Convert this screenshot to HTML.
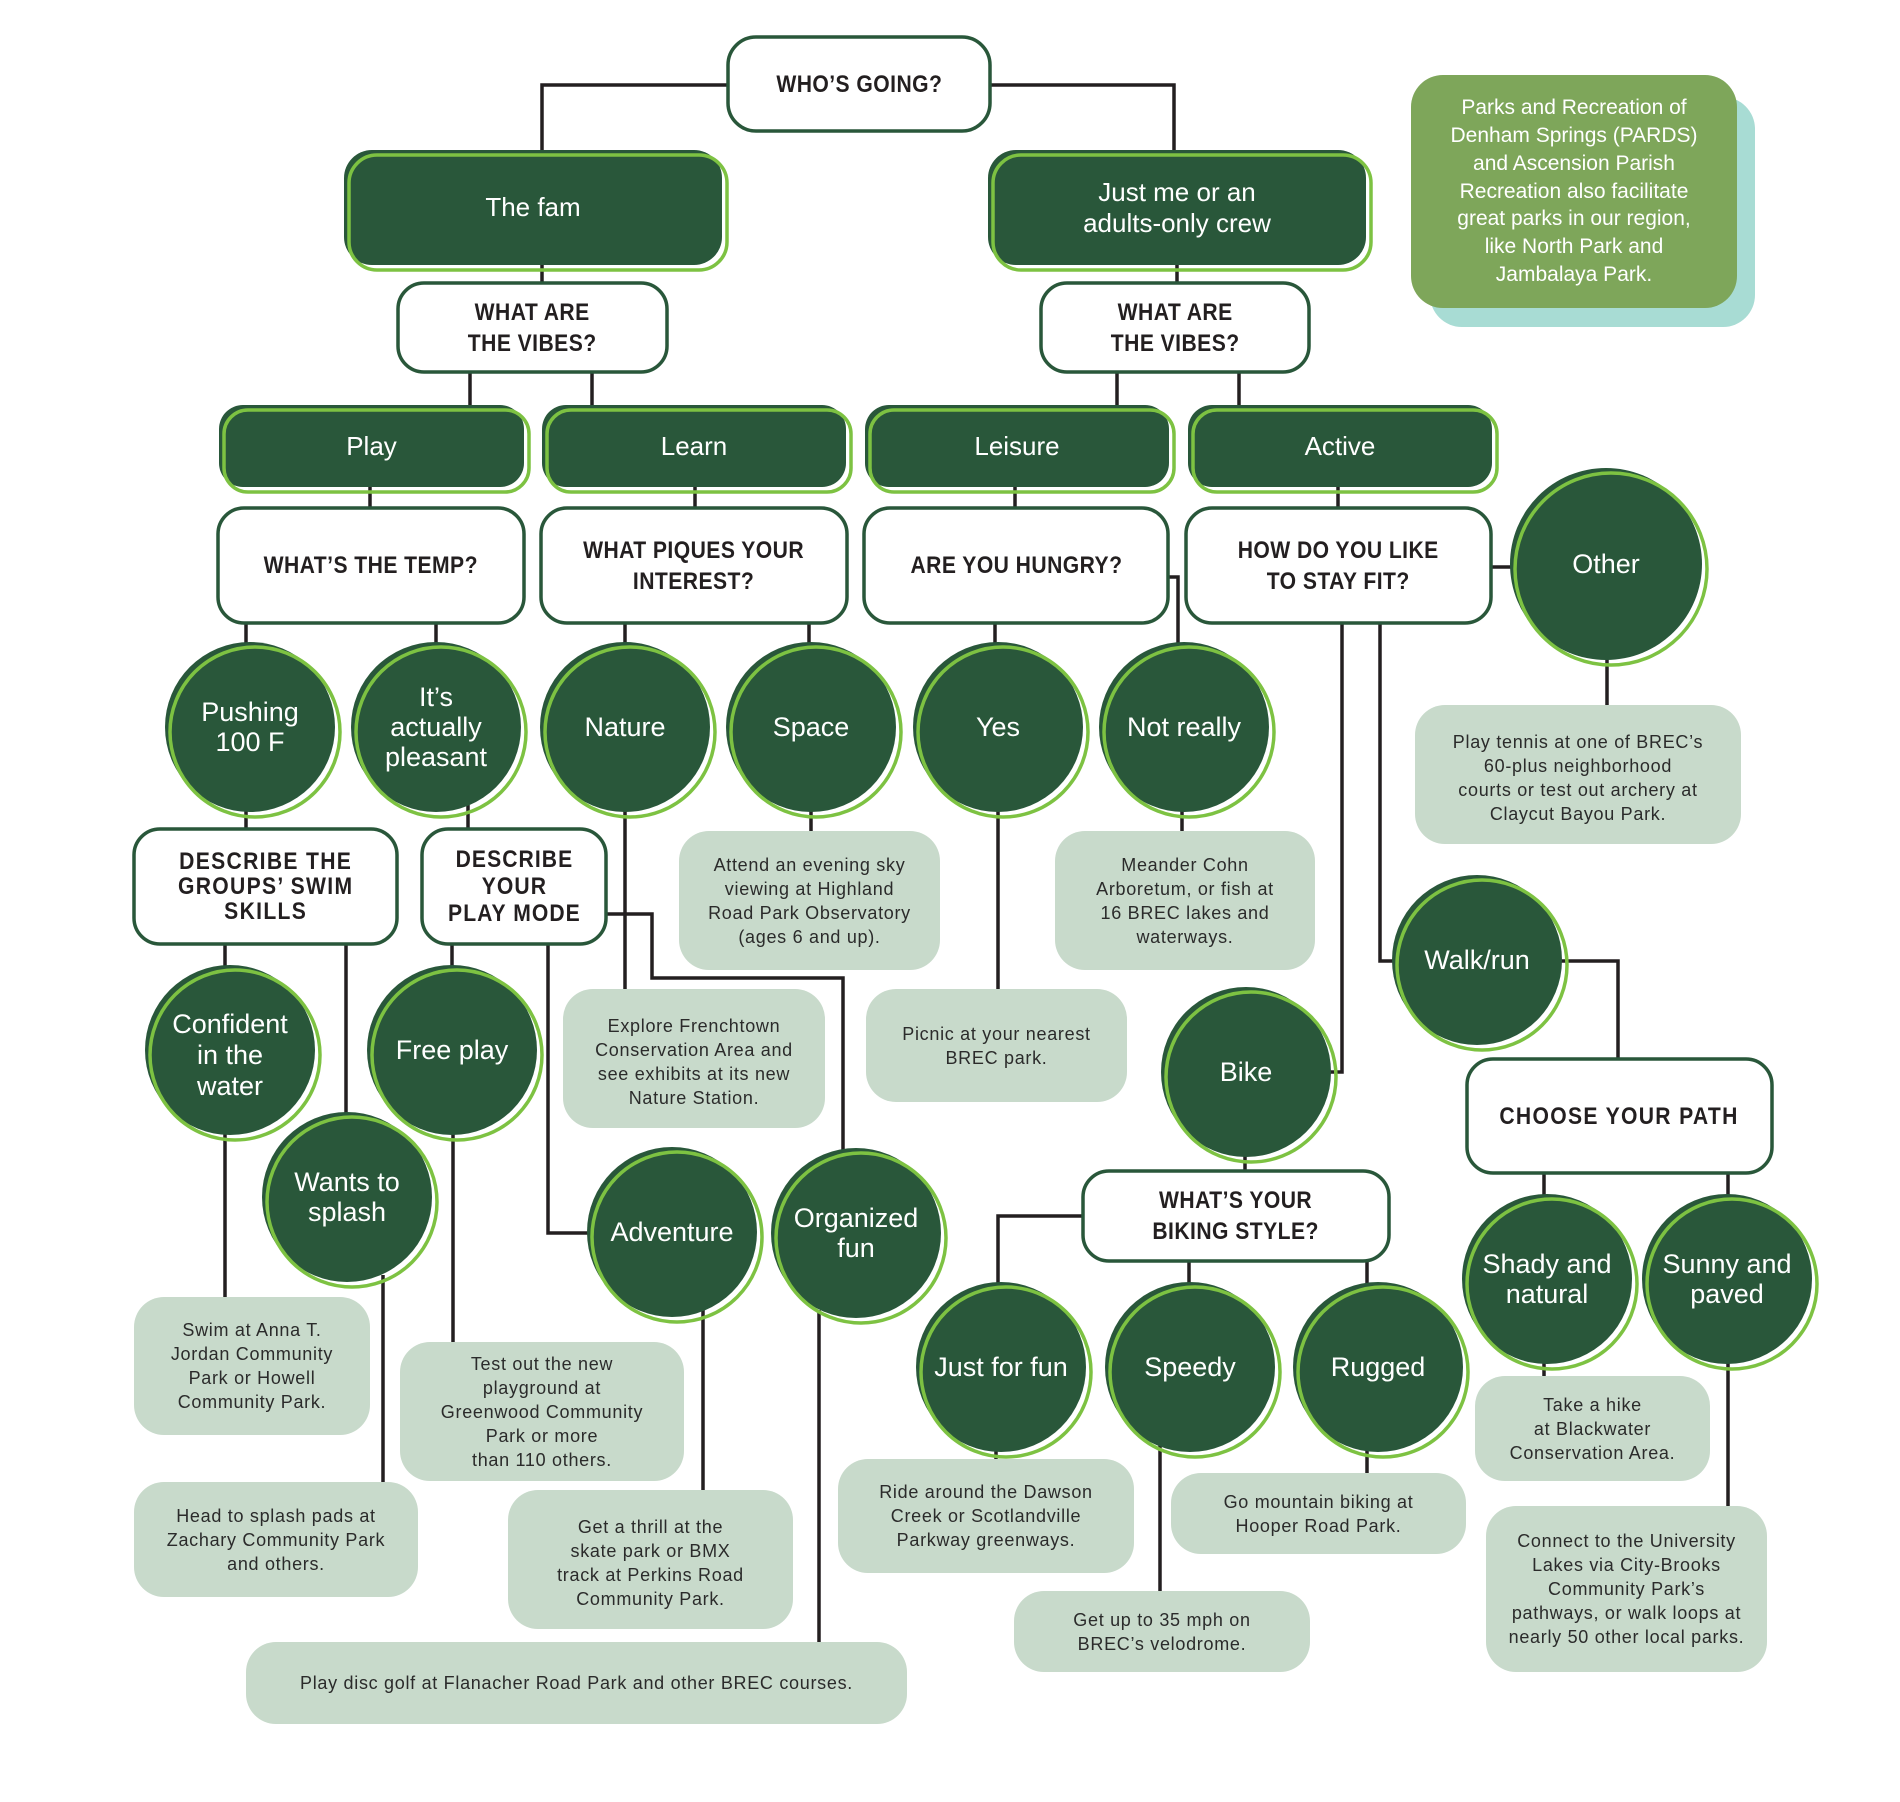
<!DOCTYPE html>
<html><head><meta charset="utf-8">
<style>
html,body{margin:0;padding:0;background:#fff;}
#w{position:relative;width:1900px;height:1802px;overflow:hidden;background:#fff;font-family:"Liberation Sans",sans-serif;}
svg{position:absolute;left:0;top:0;}
.t{position:absolute;display:flex;align-items:center;justify-content:center;text-align:center;white-space:nowrap;}
.q{font-weight:700;font-size:24px;color:#231f20;line-height:31px;letter-spacing:0.5px;}
.q span{display:inline-block;transform:scaleX(0.88);}
.c{color:#fff;font-size:27px;line-height:30px;}
.g{color:#fff;font-size:26px;line-height:31px;}
.s{color:#2b2b2b;font-size:18px;line-height:24px;letter-spacing:0.7px;}
.n{color:#fff;font-size:21px;line-height:27.8px;}
</style></head><body><div id="w">
<svg width="1900" height="1802" viewBox="0 0 1900 1802">
<!-- note -->
<rect x="1430" y="97" width="325" height="230" rx="32" fill="#a8dcd4"/>
<rect x="1411" y="75" width="326" height="233" rx="32" fill="#7ea65a"/>
<!-- connectors -->
<g stroke="#231f20" stroke-width="3.5" fill="none" stroke-linejoin="miter">
<path d="M728 85 H542 V155"/>
<path d="M990 85 H1174 V155"/>
<path d="M542 260 V290"/>
<path d="M1177 260 V290"/>
<path d="M470 365 V410"/>
<path d="M592 365 V410"/>
<path d="M1117 365 V410"/>
<path d="M1239 365 V410"/>
<path d="M370 485 V515"/>
<path d="M695 485 V515"/>
<path d="M1015 485 V515"/>
<path d="M1338 485 V515"/>
<path d="M246 615 V650"/>
<path d="M436 615 V650"/>
<path d="M625 615 V650"/>
<path d="M809 615 V650"/>
<path d="M995 615 V650"/>
<path d="M1160 577 H1178 V650"/>
<path d="M1485 567 H1515"/>
<path d="M1342 615 V1072 H1330"/>
<path d="M1380 615 V961 H1400"/>
<path d="M1607 650 V710"/>
<path d="M246 805 V835"/>
<path d="M468 805 V835"/>
<path d="M625 805 V995"/>
<path d="M811 805 V835"/>
<path d="M998 805 V995"/>
<path d="M1182 805 V835"/>
<path d="M600 914 H652 V978 H843 V1155"/>
<path d="M548 940 V1233 H595"/>
<path d="M452 940 V970"/>
<path d="M225 940 V970"/>
<path d="M346 940 V1118"/>
<path d="M225 1130 V1300"/>
<path d="M383 1275 V1490"/>
<path d="M453 1130 V1350"/>
<path d="M703 1310 V1495"/>
<path d="M819 1310 V1650"/>
<path d="M1555 961 H1618 V1065"/>
<path d="M1544 1165 V1200"/>
<path d="M1728 1165 V1200"/>
<path d="M1544 1355 V1385"/>
<path d="M1728 1355 V1515"/>
<path d="M1245 1150 V1178"/>
<path d="M1090 1216 H998 V1290"/>
<path d="M1189 1255 V1290"/>
<path d="M1367 1255 V1290"/>
<path d="M996 1440 V1465"/>
<path d="M1160 1440 V1598"/>
<path d="M1367 1440 V1480"/>
</g>
<!-- question boxes -->
<g fill="#fff" stroke="#29573a" stroke-width="3.5">
<rect x="728" y="37" width="262" height="94" rx="28"/>
<rect x="398" y="283" width="269" height="89" rx="26"/>
<rect x="1041" y="283" width="268" height="89" rx="26"/>
<rect x="218" y="508" width="306" height="115" rx="26"/>
<rect x="541" y="508" width="306" height="115" rx="26"/>
<rect x="864" y="508" width="304" height="115" rx="26"/>
<rect x="1186" y="508" width="305" height="115" rx="26"/>
<rect x="134" y="829" width="263" height="115" rx="26"/>
<rect x="422" y="829" width="184" height="115" rx="26"/>
<rect x="1083" y="1171" width="306" height="90" rx="26"/>
<rect x="1467" y="1059" width="305" height="114" rx="26"/>
</g>
<!-- green boxes -->
<g fill="#29573a">
<rect x="344" y="150" width="378" height="115" rx="28"/>
<rect x="988" y="150" width="378" height="115" rx="28"/>
<rect x="219" y="405" width="305" height="82" rx="24"/>
<rect x="542" y="405" width="304" height="82" rx="24"/>
<rect x="865" y="405" width="304" height="82" rx="24"/>
<rect x="1188" y="405" width="304" height="82" rx="24"/>
</g>
<g fill="none" stroke="#7dc242" stroke-width="3.5">
<rect x="349" y="155" width="378" height="115" rx="28"/>
<rect x="993" y="155" width="378" height="115" rx="28"/>
<rect x="224" y="410" width="305" height="82" rx="24"/>
<rect x="547" y="410" width="304" height="82" rx="24"/>
<rect x="870" y="410" width="304" height="82" rx="24"/>
<rect x="1193" y="410" width="304" height="82" rx="24"/>
</g>
<!-- circles -->
<g fill="#29573a">
<circle cx="250" cy="727" r="85"/>
<circle cx="436" cy="727" r="85"/>
<circle cx="625" cy="727" r="85"/>
<circle cx="811" cy="727" r="85"/>
<circle cx="998" cy="727" r="85"/>
<circle cx="1184" cy="727" r="85"/>
<circle cx="1606" cy="564" r="96"/>
<circle cx="230" cy="1050" r="85"/>
<circle cx="452" cy="1050" r="85"/>
<circle cx="347" cy="1197" r="85"/>
<circle cx="672" cy="1232" r="85"/>
<circle cx="856" cy="1233" r="85"/>
<circle cx="1246" cy="1072" r="85"/>
<circle cx="1477" cy="960" r="85"/>
<circle cx="1001" cy="1367" r="85"/>
<circle cx="1190" cy="1367" r="85"/>
<circle cx="1378" cy="1367" r="85"/>
<circle cx="1547" cy="1279" r="85"/>
<circle cx="1727" cy="1279" r="85"/>
</g>
<g fill="none" stroke="#7dc242" stroke-width="3.5">
<circle cx="255" cy="732" r="85"/>
<circle cx="441" cy="732" r="85"/>
<circle cx="630" cy="732" r="85"/>
<circle cx="816" cy="732" r="85"/>
<circle cx="1003" cy="732" r="85"/>
<circle cx="1189" cy="732" r="85"/>
<circle cx="1611" cy="569" r="96"/>
<circle cx="235" cy="1055" r="85"/>
<circle cx="457" cy="1055" r="85"/>
<circle cx="352" cy="1202" r="85"/>
<circle cx="677" cy="1237" r="85"/>
<circle cx="861" cy="1238" r="85"/>
<circle cx="1251" cy="1077" r="85"/>
<circle cx="1482" cy="965" r="85"/>
<circle cx="1006" cy="1372" r="85"/>
<circle cx="1195" cy="1372" r="85"/>
<circle cx="1383" cy="1372" r="85"/>
<circle cx="1552" cy="1284" r="85"/>
<circle cx="1732" cy="1284" r="85"/>
</g>
<!-- sage boxes -->
<g fill="#c8dacb">
<rect x="1415" y="705" width="326" height="139" rx="30"/>
<rect x="679" y="831" width="261" height="139" rx="30"/>
<rect x="1055" y="831" width="260" height="139" rx="30"/>
<rect x="563" y="989" width="262" height="139" rx="30"/>
<rect x="866" y="989" width="261" height="113" rx="30"/>
<rect x="134" y="1297" width="236" height="138" rx="30"/>
<rect x="400" y="1342" width="284" height="139" rx="30"/>
<rect x="134" y="1482" width="284" height="115" rx="30"/>
<rect x="508" y="1490" width="285" height="139" rx="30"/>
<rect x="246" y="1642" width="661" height="82" rx="30"/>
<rect x="838" y="1459" width="296" height="114" rx="30"/>
<rect x="1014" y="1591" width="296" height="81" rx="30"/>
<rect x="1171" y="1473" width="295" height="81" rx="30"/>
<rect x="1475" y="1376" width="235" height="105" rx="30"/>
<rect x="1486" y="1506" width="281" height="166" rx="30"/>
</g>
</svg>

<!-- note text -->
<div class="t n" style="left:1411px;top:75px;width:326px;height:233px;">Parks and Recreation of<br>Denham Springs (PARDS)<br>and Ascension Parish<br>Recreation also facilitate<br>great parks in our region,<br>like North Park and<br>Jambalaya Park.</div>

<!-- question text -->
<div class="t q" style="left:728px;top:37px;width:262px;height:94px;"><span>WHO’S GOING?</span></div>
<div class="t q" style="left:398px;top:283px;width:269px;height:89px;"><span>WHAT ARE<br>THE VIBES?</span></div>
<div class="t q" style="left:1041px;top:283px;width:268px;height:89px;"><span>WHAT ARE<br>THE VIBES?</span></div>
<div class="t q" style="left:218px;top:508px;width:306px;height:115px;"><span>WHAT’S THE TEMP?</span></div>
<div class="t q" style="left:541px;top:508px;width:306px;height:115px;"><span>WHAT PIQUES YOUR<br>INTEREST?</span></div>
<div class="t q" style="left:864px;top:508px;width:304px;height:115px;"><span>ARE YOU HUNGRY?</span></div>
<div class="t q" style="left:1186px;top:508px;width:305px;height:115px;"><span>HOW DO YOU LIKE<br>TO STAY FIT?</span></div>
<div class="t q" style="left:134px;top:829px;width:263px;height:115px;line-height:25px;letter-spacing:1.5px;"><span>DESCRIBE THE<br>GROUPS’ SWIM<br>SKILLS</span></div>
<div class="t q" style="left:422px;top:829px;width:184px;height:115px;line-height:27px;letter-spacing:1.2px;"><span>DESCRIBE<br>YOUR<br>PLAY MODE</span></div>
<div class="t q" style="left:1083px;top:1171px;width:306px;height:90px;"><span>WHAT’S YOUR<br>BIKING STYLE?</span></div>
<div class="t q" style="left:1467px;top:1059px;width:305px;height:114px;letter-spacing:1.5px;"><span>CHOOSE YOUR PATH</span></div>

<!-- green box labels -->
<div class="t g" style="left:344px;top:150px;width:378px;height:115px;">The fam</div>
<div class="t g" style="left:988px;top:150px;width:378px;height:115px;">Just me or an<br>adults-only crew</div>
<div class="t g" style="left:219px;top:405px;width:305px;height:82px;">Play</div>
<div class="t g" style="left:542px;top:405px;width:304px;height:82px;">Learn</div>
<div class="t g" style="left:865px;top:405px;width:304px;height:82px;">Leisure</div>
<div class="t g" style="left:1188px;top:405px;width:304px;height:82px;">Active</div>

<!-- circle labels -->
<div class="t c" style="left:165px;top:642px;width:170px;height:170px;">Pushing<br>100 F</div>
<div class="t c" style="left:351px;top:642px;width:170px;height:170px;">It’s<br>actually<br>pleasant</div>
<div class="t c" style="left:540px;top:642px;width:170px;height:170px;">Nature</div>
<div class="t c" style="left:726px;top:642px;width:170px;height:170px;">Space</div>
<div class="t c" style="left:913px;top:642px;width:170px;height:170px;">Yes</div>
<div class="t c" style="left:1099px;top:642px;width:170px;height:170px;">Not really</div>
<div class="t c" style="left:1510px;top:468px;width:192px;height:192px;">Other</div>
<div class="t c" style="left:145px;top:970px;width:170px;height:170px;line-height:31px;">Confident<br>in the<br>water</div>
<div class="t c" style="left:367px;top:965px;width:170px;height:170px;">Free play</div>
<div class="t c" style="left:262px;top:1112px;width:170px;height:170px;">Wants to<br>splash</div>
<div class="t c" style="left:587px;top:1147px;width:170px;height:170px;">Adventure</div>
<div class="t c" style="left:771px;top:1148px;width:170px;height:170px;">Organized<br>fun</div>
<div class="t c" style="left:1161px;top:987px;width:170px;height:170px;">Bike</div>
<div class="t c" style="left:1392px;top:875px;width:170px;height:170px;">Walk/run</div>
<div class="t c" style="left:916px;top:1282px;width:170px;height:170px;">Just for fun</div>
<div class="t c" style="left:1105px;top:1282px;width:170px;height:170px;">Speedy</div>
<div class="t c" style="left:1293px;top:1282px;width:170px;height:170px;">Rugged</div>
<div class="t c" style="left:1462px;top:1194px;width:170px;height:170px;">Shady and<br>natural</div>
<div class="t c" style="left:1642px;top:1194px;width:170px;height:170px;">Sunny and<br>paved</div>

<!-- sage texts -->
<div class="t s" style="left:1415px;top:705px;width:326px;height:145px;">Play tennis at one of BREC’s<br>60-plus neighborhood<br>courts or test out archery at<br>Claycut Bayou Park.</div>
<div class="t s" style="left:679px;top:831px;width:261px;height:139px;">Attend an evening sky<br>viewing at Highland<br>Road Park Observatory<br>(ages 6 and up).</div>
<div class="t s" style="left:1055px;top:831px;width:260px;height:139px;">Meander Cohn<br>Arboretum, or fish at<br>16 BREC lakes and<br>waterways.</div>
<div class="t s" style="left:563px;top:989px;width:262px;height:145px;">Explore Frenchtown<br>Conservation Area and<br>see exhibits at its new<br>Nature Station.</div>
<div class="t s" style="left:866px;top:989px;width:261px;height:113px;">Picnic at your nearest<br>BREC park.</div>
<div class="t s" style="left:134px;top:1297px;width:236px;height:138px;">Swim at Anna T.<br>Jordan Community<br>Park or Howell<br>Community Park.</div>
<div class="t s" style="left:400px;top:1342px;width:284px;height:139px;">Test out the new<br>playground at<br>Greenwood Community<br>Park or more<br>than 110 others.</div>
<div class="t s" style="left:134px;top:1482px;width:284px;height:115px;">Head to splash pads at<br>Zachary Community Park<br>and others.</div>
<div class="t s" style="left:508px;top:1490px;width:285px;height:145px;">Get a thrill at the<br>skate park or BMX<br>track at Perkins Road<br>Community Park.</div>
<div class="t s" style="left:246px;top:1642px;width:661px;height:82px;">Play disc golf at Flanacher Road Park and other BREC courses.</div>
<div class="t s" style="left:838px;top:1459px;width:296px;height:114px;">Ride around the Dawson<br>Creek or Scotlandville<br>Parkway greenways.</div>
<div class="t s" style="left:1014px;top:1591px;width:296px;height:81px;">Get up to 35 mph on<br>BREC’s velodrome.</div>
<div class="t s" style="left:1171px;top:1473px;width:295px;height:81px;">Go mountain biking at<br>Hooper Road Park.</div>
<div class="t s" style="left:1475px;top:1376px;width:235px;height:105px;">Take a hike<br>at Blackwater<br>Conservation Area.</div>
<div class="t s" style="left:1486px;top:1506px;width:281px;height:166px;">Connect to the University<br>Lakes via City-Brooks<br>Community Park’s<br>pathways, or walk loops at<br>nearly 50 other local parks.</div>
</div></body></html>
